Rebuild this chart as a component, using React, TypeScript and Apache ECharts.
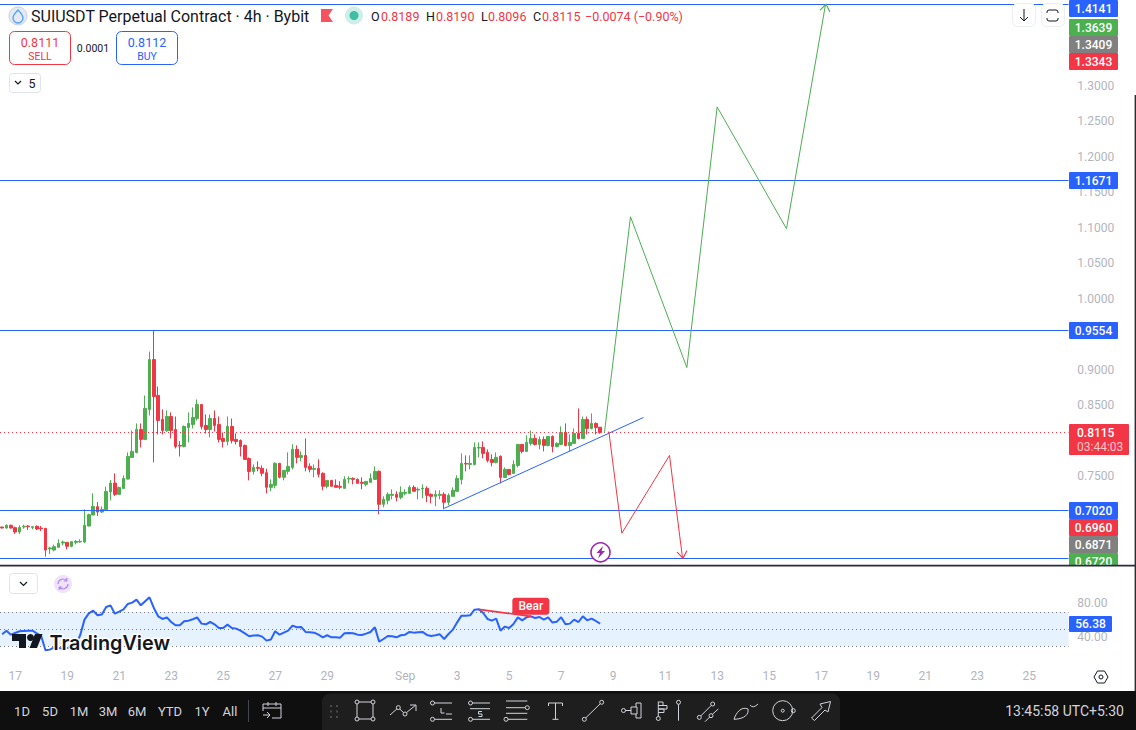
import React, { useEffect, useRef } from "react";
import * as echarts from "echarts";

const FONT = "Roboto, sans-serif";
const UP = "#4caf50";
const DOWN = "#f23645";
const BLUE = "#2962ff";
const GREY_TEXT = "#b2b5be";

// 4h candles as [open, close, low, high]
const candles = [
  [0.6783, 0.6769, 0.6764, 0.6788], [0.6769, 0.6807, 0.676, 0.6821], [0.6807, 0.6769, 0.676, 0.6816], [0.6774, 0.6713, 0.6685, 0.6788],
  [0.6713, 0.6778, 0.6685, 0.6807], [0.6783, 0.6793, 0.676, 0.6816], [0.6797, 0.6788, 0.6741, 0.6807], [0.6778, 0.6788, 0.675, 0.6797],
  [0.6793, 0.6755, 0.6741, 0.6807], [0.6769, 0.676, 0.6727, 0.6797], [0.6764, 0.6459, 0.6366, 0.6764], [0.6474, 0.6488, 0.6403, 0.6506],
  [0.6459, 0.6506, 0.6441, 0.6535], [0.6497, 0.6553, 0.6497, 0.661], [0.6558, 0.6572, 0.6525, 0.6591], [0.6567, 0.6511, 0.6469, 0.6567],
  [0.6511, 0.6577, 0.6497, 0.6581], [0.6567, 0.6581, 0.6539, 0.66], [0.6572, 0.6581, 0.6563, 0.661], [0.6572, 0.6807, 0.6558, 0.7032],
  [0.6797, 0.6957, 0.6793, 0.6971], [0.6952, 0.7074, 0.6952, 0.7257], [0.7069, 0.6994, 0.6938, 0.7135], [0.6994, 0.7032, 0.698, 0.7074],
  [0.7027, 0.7285, 0.7027, 0.7351], [0.7276, 0.7402, 0.7158, 0.7444], [0.7402, 0.7243, 0.7219, 0.7538], [0.7243, 0.7341, 0.7243, 0.7351],
  [0.7327, 0.7468, 0.7327, 0.751], [0.7458, 0.7777, 0.7454, 0.7834], [0.7763, 0.7848, 0.7763, 0.8143], [0.7834, 0.8157, 0.782, 0.8242],
  [0.8157, 0.8017, 0.7904, 0.8242], [0.8017, 0.8453, 0.8007, 0.8636], [0.8439, 0.9142, 0.8354, 0.9255], [0.9142, 0.8622, 0.7693, 0.956],
  [0.8636, 0.8284, 0.8087, 0.8762], [0.8298, 0.8143, 0.8087, 0.8439], [0.8138, 0.834, 0.8124, 0.8425], [0.834, 0.8143, 0.8031, 0.8397],
  [0.8157, 0.7918, 0.789, 0.834], [0.7932, 0.7923, 0.7777, 0.7993], [0.7918, 0.8199, 0.7904, 0.8214], [0.8185, 0.8242, 0.7974, 0.8397],
  [0.8228, 0.8326, 0.8171, 0.8467], [0.8312, 0.8509, 0.8284, 0.8579], [0.8509, 0.8199, 0.8157, 0.8509], [0.8214, 0.8157, 0.8101, 0.8368],
  [0.8157, 0.8312, 0.8045, 0.8368], [0.8312, 0.8214, 0.8129, 0.8425], [0.8228, 0.8017, 0.7974, 0.834], [0.8031, 0.7988, 0.7904, 0.8115],
  [0.7988, 0.8199, 0.7932, 0.834], [0.8199, 0.8002, 0.796, 0.8312], [0.8017, 0.7988, 0.7946, 0.8101], [0.8002, 0.7918, 0.7777, 0.8017],
  [0.7932, 0.7735, 0.7735, 0.7946], [0.7749, 0.7566, 0.744, 0.7763], [0.7566, 0.7623, 0.7524, 0.7665], [0.7623, 0.7609, 0.7566, 0.7707],
  [0.7609, 0.7539, 0.7497, 0.7651], [0.7548, 0.7342, 0.7257, 0.7604], [0.7342, 0.7384, 0.7286, 0.7454], [0.737, 0.768, 0.7328, 0.7694],
  [0.768, 0.7483, 0.7468, 0.768], [0.7483, 0.7581, 0.744, 0.7581], [0.7567, 0.7637, 0.7525, 0.7834], [0.7623, 0.7877, 0.7595, 0.7947],
  [0.7877, 0.7764, 0.768, 0.7933], [0.7764, 0.7792, 0.7708, 0.7848], [0.7792, 0.7623, 0.7567, 0.8031], [0.7637, 0.7595, 0.7553, 0.768],
  [0.7595, 0.7609, 0.7483, 0.7665], [0.7609, 0.7525, 0.7483, 0.7736], [0.7539, 0.7356, 0.73, 0.7553], [0.7356, 0.744, 0.7328, 0.744],
  [0.744, 0.7356, 0.7356, 0.744], [0.737, 0.7342, 0.7342, 0.7454], [0.7356, 0.7342, 0.7314, 0.7426], [0.7328, 0.7454, 0.7328, 0.7497],
  [0.7459, 0.7468, 0.7398, 0.7497], [0.7468, 0.7454, 0.7384, 0.7483], [0.7454, 0.7398, 0.7398, 0.7468], [0.7412, 0.7398, 0.7314, 0.7483],
  [0.7384, 0.7426, 0.7356, 0.7426], [0.7412, 0.7468, 0.7412, 0.7539], [0.7454, 0.7567, 0.7454, 0.7637], [0.7567, 0.7103, 0.6962, 0.7581],
  [0.7103, 0.7173, 0.706, 0.7215], [0.7159, 0.7243, 0.7103, 0.7271], [0.7229, 0.7243, 0.7173, 0.7314], [0.7243, 0.7201, 0.7145, 0.7286],
  [0.7201, 0.7271, 0.7173, 0.7356], [0.7257, 0.7271, 0.7229, 0.7314], [0.7257, 0.7342, 0.7257, 0.737], [0.7342, 0.7286, 0.7286, 0.737],
  [0.7304, 0.7314, 0.7173, 0.7342], [0.7318, 0.7328, 0.7187, 0.7384], [0.7328, 0.7229, 0.7131, 0.7356], [0.7243, 0.7215, 0.7117, 0.7257],
  [0.7215, 0.7243, 0.7075, 0.73], [0.7229, 0.7243, 0.7173, 0.73], [0.7243, 0.7131, 0.7032, 0.7271], [0.7131, 0.7229, 0.7089, 0.7257],
  [0.7215, 0.73, 0.7215, 0.7342], [0.7286, 0.7468, 0.7286, 0.7511], [0.7454, 0.7679, 0.7384, 0.782], [0.7679, 0.767, 0.7567, 0.7792],
  [0.7665, 0.7679, 0.7595, 0.7792], [0.7665, 0.7904, 0.7651, 0.7975], [0.7895, 0.7904, 0.7764, 0.7975], [0.7904, 0.782, 0.775, 0.7989],
  [0.7834, 0.7721, 0.7693, 0.7876], [0.7735, 0.7693, 0.7637, 0.7806], [0.7693, 0.7764, 0.7679, 0.7834], [0.7778, 0.7482, 0.7398, 0.7792],
  [0.7482, 0.7595, 0.7482, 0.7623], [0.7595, 0.7524, 0.751, 0.7595], [0.7538, 0.7665, 0.7538, 0.7721], [0.7651, 0.7947, 0.7623, 0.7947],
  [0.7947, 0.7848, 0.782, 0.7947], [0.7848, 0.7975, 0.7848, 0.8073], [0.7961, 0.8031, 0.7932, 0.8143], [0.8031, 0.7946, 0.7932, 0.8087],
  [0.7946, 0.8017, 0.7876, 0.8059], [0.8017, 0.7932, 0.7848, 0.8059], [0.7932, 0.8059, 0.7918, 0.8059], [0.8059, 0.7918, 0.7834, 0.8073],
  [0.7918, 0.7961, 0.7904, 0.7975], [0.7946, 0.8115, 0.7946, 0.82], [0.8115, 0.7932, 0.7918, 0.8242], [0.7932, 0.7975, 0.7848, 0.8087],
  [0.7961, 0.8101, 0.7961, 0.8172], [0.8101, 0.8031, 0.8017, 0.8453], [0.8031, 0.8298, 0.8031, 0.834], [0.8298, 0.8172, 0.8087, 0.834],
  [0.8172, 0.8242, 0.8158, 0.8383], [0.8242, 0.8186, 0.8087, 0.8256], [0.8189, 0.8115, 0.8096, 0.819],
];

const rsi = [
  43.7, 48.0, 43.3, 45.3, 47.3, 47.7, 48.0, 48.0, 44.9, 41.8, 24.9, 25.7, 28.4, 27.7, 26.9, 27.7, 28.4, 31.6, 42.6, 61.0,
  68.4, 71.6, 66.1, 66.9, 75.9, 77.8, 68.0, 70.4, 73.1, 79.4, 81.0, 84.5, 77.8, 82.5, 87.2, 74.7, 64.9, 61.8, 63.7, 58.2,
  54.3, 54.3, 59.0, 59.8, 61.4, 63.7, 56.3, 55.5, 58.2, 55.5, 51.2, 51.2, 55.1, 51.2, 50.4, 48.0, 44.9, 41.4, 42.2, 42.6,
  41.0, 36.3, 37.5, 47.3, 43.3, 45.7, 48.0, 53.9, 52.0, 52.4, 46.5, 46.1, 45.7, 43.3, 40.2, 42.6, 40.2, 40.2, 39.8, 44.9,
  45.3, 44.9, 43.3, 43.0, 44.5, 46.5, 52.0, 35.1, 38.2, 41.8, 41.4, 40.2, 42.6, 43.3, 46.5, 45.7, 46.1, 46.5, 43.0, 41.8,
  42.6, 43.7, 38.2, 44.1, 49.2, 57.8, 65.7, 65.7, 66.1, 72.7, 73.1, 68.8, 61.8, 59.8, 62.2, 48.0, 52.8, 51.2, 55.9, 63.7,
  60.2, 63.7, 64.9, 62.9, 64.1, 61.0, 63.7, 57.5, 58.6, 63.7, 55.5, 56.3, 61.0, 58.2, 64.9, 60.2, 62.2, 59.4, 56.38,
];

// drawn on the chart, [bar index, price]
const greenPath = [[139, 0.8115], [145, 1.1153], [158, 0.9029], [165, 1.27], [181, 1.0984], [190, 1.4141]];
const redPath = [[140, 0.8129], [143, 0.6695], [154, 0.7792], [157, 0.635]];
const trendLine = [[102, 0.7046], [148, 0.8326]];
const divergence = [[110, 73.1], [122, 64.9]];

const hLevels = [1.4141, 1.1671, 0.9554, 0.702, 0.635];
const lastPrice = 0.8115;
const rsiLevels = [70, 50, 30];

const priceTicks = [1.3, 1.25, 1.2, 1.15, 1.1, 1.05, 1.0, 0.9, 0.85, 0.75];
const rsiTicks = [80, 40];
const dayTickBars = [3, 15, 27, 39, 51, 63, 75, 93, 105, 117, 129, 141, 153, 165, 177, 189, 201, 213, 225, 237];
const dayTickLabels = ["17", "19", "21", "23", "25", "27", "29", "Sep", "3", "5", "7", "9", "11", "13", "15", "17", "19", "21", "23", "25"];
const BAR_COUNT = 247;

const categories: string[] = [];
for (let i = 0; i < BAR_COUNT; i++) {
  const k = dayTickBars.indexOf(i);
  categories.push(k >= 0 ? dayTickLabels[k] : "");
}

const rangeButtons = ["1D", "5D", "1M", "3M", "6M", "YTD", "1Y", "All"];
const rangeButtonX = [22, 50, 79, 108, 137, 170, 202, 230];

const priceTags: [string, number, number, string][] = [
  ["1.4141", 0, 17, BLUE], ["1.3639", 19, 36, UP], ["1.3409", 36, 53, "#808080"], ["1.3343", 53, 70, DOWN],
  ["1.1671", 172, 189, BLUE], ["0.9554", 322, 339, BLUE],
  ["0.7020", 502, 519, BLUE], ["0.6960", 519, 536, DOWN], ["0.6871", 536, 553, "#808080"], ["0.6720", 553, 566, UP],
];

const circle = (x: number, y: number, r: number) =>
  `M${x - r} ${y}a${r} ${r} 0 1 0 ${2 * r} 0a${r} ${r} 0 1 0 ${-2 * r} 0`;

// toolbar and chrome glyphs, absolute page coordinates
const icons: Record<string, string> = {
  rectTool: circle(357, 702, 2) + circle(373, 702, 2) + circle(357, 719, 2) + circle(373, 719, 2) + "M359 702H371M359 719H371M357 704V717M373 704V717",
  pathTool: "M390 715L396.8 709" + circle(398.3, 707.6, 2) + "M399.8 709L403.5 712.6" + circle(405, 714, 2) + "M406.5 712.6L415.5 705.3M410 705H416V711",
  longTool: circle(432.5, 703, 2) + "M434.5 703H452M446 714H452M434.5 719.3H452" + circle(432.5, 719.3, 2) + "M441 708V713H444.5",
  shortTool: circle(470.5, 703, 2) + "M472.5 703H490M470 708.7H490M472.5 719.3H490" + circle(470.5, 719.3, 2) + "M482 711.5H478.5V714H482V716.5H478.5",
  channelTool: "M506 701H527.3M506 707.7H525" + circle(527.3, 707.7, 2) + "M506 713.3H527.3M508 719.3H527.3" + circle(506, 719.3, 2),
  textTool: "M548.5 706V703H562.5V706M555.5 703V719.3M552.5 719.3H558.5",
  lineTool: circle(601.7, 702.3, 2) + circle(584.3, 719.3, 2) + "M600.3 703.7L585.7 717.9",
  fibTool: circle(623.5, 710.5, 2) + "M625.5 710.5H631M631 707H637V714H631ZM636 707V703H641V718H636V714",
  barsTool: "M658.3 701.7V716.5" + circle(658.3, 718.5, 2) + "M658.3 702H663V705.5H658.3M658.3 705.5H667V709H658.3M658.3 709H664V712.5H658.3",
  pinTool: circle(678.5, 702.3, 2) + "M678.5 704.3V720.7",
  linesTool: circle(712.7, 704, 2) + "M711.3 705.4L700.7 716" + circle(699.3, 717.4, 2) + "M718.3 709L712.4 714.3" + circle(711, 715.7, 2) + "M709.6 717.1L705 721.7",
  brushTool: "M734 719.3C736 713 741 706 748 709C749 714 745 719 734 719.3ZM750 705Q753 709 758 704",
  circleTool: circle(782.7, 710.7, 10) + circle(782.7, 710.7, 1.5) + circle(793.3, 710.7, 2),
  arrowTool: "M811.5 718L822 707.5L820 704L830.5 701.5L828 712L825 710L814.5 720.5Z",
  calendar: "M263 711V704H281V718H272M263 708H281M268 702V706M276 702V706M263 715H270M267 712L270 715L267 718",
  toBottom: "M1024 9V21M1020 17L1024 21L1028 17",
  fullScreen: "M1047 13V12Q1047 10 1049 10H1056Q1058 10 1058 12V13M1047 18V19Q1047 21 1049 21H1056Q1058 21 1058 19V18",
  hexGear: "M1094 677L1097.5 671H1104.5L1108 677L1104.5 683H1097.5Z" + circle(1101, 677, 2),
  chevron5: "M15 81L18 84L21 81",
  chevronPane: "M20 582L23.5 585.5L27 582",
  sync: "M58 584A5 5 0 0 1 66.5 580.5M66.8 578V581H63.8M68 584A5 5 0 0 1 59.5 587.5M59.2 590V587H62.2",
  drop: "M18 10C21 13 23 15 23 18A5 5 0 0 1 13 18C13 15 15 13 18 10Z",
};
Object.keys(icons).forEach((k) => {
  echarts.graphic.registerShape(k, echarts.graphic.extendPath(icons[k], {}));
});
const filledShapes: Record<string, string> = {
  flag: "M321 9H333L328.5 15.5L333 22H321Z",
  bolt: "M603 546L596.5 553H600L598 558.5L605 551H601.5Z",
  tvT: "M12 634H26V648H19V641H12Z",
  tvSlash: "M29.5 648L35 634H42.5L37 648Z",
};
Object.keys(filledShapes).forEach((k) => {
  echarts.graphic.registerShape(k, echarts.graphic.extendPath(filledShapes[k], {}));
});

const text = (str: string, x: number, y: number, size: number, fill: string, align = "center", extra = {}) => ({
  type: "text", x, y, z: 60,
  style: { text: str, fontSize: size, fill, fontFamily: FONT, align, verticalAlign: "middle", ...extra },
});
const box = (x: number, y: number, w: number, h: number, fill: string, stroke?: string, r: any = 0, z = 50) => ({
  type: "rect", z, shape: { x, y, width: w, height: h, r },
  style: { fill, stroke: stroke || "none", lineWidth: stroke ? 1 : 0 },
});
const glyph = (name: string, stroke: string, width = 1, z = 60) => ({
  type: name, x: 0, y: 0, z, style: { fill: "none", stroke, lineWidth: width },
});
const solid = (name: string, fill: string, z = 60) => ({ type: name, x: 0, y: 0, z, style: { fill } });

function buildGraphic() {
  const els: any[] = [];
  // strip past the plot's last bar band
  els.push(box(1068.5, 0, 3, 566, "#fff", undefined, 0, 40));
  els.push(box(1068.5, 566, 3, 92, "#fff", undefined, 0, 40));

  // header
  els.push({ type: "circle", z: 60, shape: { cx: 18, cy: 16, r: 9 }, style: { fill: "#e4e9f2", stroke: "#c9d0dc", lineWidth: 1 } });
  els.push(glyph("drop", "#4da2ff", 1.3, 61));
  els.push(text("SUIUSDT Perpetual Contract · 4h · Bybit", 31, 16, 16, "#131722", "left"));
  els.push(solid("flag", "#f7525f"));
  els.push({ type: "circle", z: 60, shape: { cx: 354, cy: 15.5, r: 9 }, style: { fill: "#cfeee8" } });
  els.push({ type: "circle", z: 61, shape: { cx: 354, cy: 15.5, r: 4.5 }, style: { fill: "#3cbfa5" } });
  ([["O", 371, "0.8189", 381], ["H", 426, "0.8190", 436], ["L", 481, "0.8096", 488], ["C", 533, "0.8115", 542]] as [string, number, string, number][]).forEach(([k, kx, v, vx]) => {
    els.push(text(k, kx, 16, 12.5, "#131722", "left"));
    els.push(text(v, vx, 16, 12.5, DOWN, "left"));
  });
  els.push(text("−0.0074 (−0.90%)", 585, 16, 12.5, DOWN, "left"));

  // sell / buy
  els.push(box(9.5, 31.5, 61, 33, "#fff", DOWN, 5));
  els.push(text("0.8111", 40, 42, 12.5, DOWN));
  els.push(text("SELL", 40, 56, 10.5, DOWN));
  els.push(text("0.0001", 93, 48, 10.5, "#131722"));
  els.push(box(116.5, 31.5, 61, 33, "#fff", BLUE, 5));
  els.push(text("0.8112", 147, 42, 12.5, BLUE));
  els.push(text("BUY", 147, 56, 10.5, BLUE));
  els.push(box(9.5, 73.5, 31, 19, "#fff", "#e0e3eb", 3));
  els.push(glyph("chevron5", "#131722", 1.2));
  els.push(text("5", 32, 83.5, 12.5, "#131722"));

  // top right buttons
  els.push(box(1012.5, 3.5, 23, 23, "#fff", "#eceef2", 5));
  els.push(glyph("toBottom", "#131722", 1));
  els.push(box(1041.5, 3.5, 23, 23, "#fff", "#eceef2", 5));
  els.push(glyph("fullScreen", "#131722", 1));

  // bolt marker
  els.push({ type: "circle", z: 60, shape: { cx: 600.5, cy: 552.3, r: 9.5 }, style: { fill: "#fff", stroke: "#9c27b0", lineWidth: 1.6 } });
  els.push(solid("bolt", "#9c27b0", 61));

  // price tags
  priceTags.forEach(([t, y0, y1, c]) => {
    els.push(box(1069, y0, 49, y1 - y0, c, undefined, 1));
    els.push(text(t, 1093.5, y0 + 8.5, 12, "#fff", "center", { fontWeight: 500 }));
  });
  els.push(box(1069, 424, 60, 31, DOWN, undefined, 1));
  els.push(text("0.8115", 1077, 432.5, 12, "#fff", "left", { fontWeight: 500 }));
  els.push(text("03:44:03", 1077, 446.5, 12, "#fbc4ca", "left"));

  // pane separator
  els.push(box(1069, 566, 65, 8, "#fff", undefined, 0, 61));
  els.push(box(0, 564.8, 1135, 1.6, "#2a2e39", undefined, 0, 62));
  els.push(box(1134.6, 95, 1.4, 600, "#2a2e39", undefined, 0, 62));

  // rsi pane
  els.push(box(9.5, 573.5, 28, 20, "#fff", "#e0e3eb", 3));
  els.push(glyph("chevronPane", "#131722", 1.2));
  els.push({ type: "circle", z: 60, shape: { cx: 63, cy: 584, r: 9 }, style: { fill: "#efe3fb" } });
  els.push(glyph("sync", "#b388ee", 1.2, 61));
  els.push(box(1069, 616, 43, 16, BLUE, undefined, 1));
  els.push(text("56.38", 1090.5, 624.3, 12, "#fff", "center", { fontWeight: 500 }));

  // watermark
  els.push(solid("tvT", "#131722", 70));
  els.push({ type: "circle", z: 70, shape: { cx: 30.5, cy: 637.5, r: 3.5 }, style: { fill: "#131722" } });
  els.push(solid("tvSlash", "#131722", 70));
  els.push(text("TradingView", 49.5, 643, 19.8, "#131722", "left", { fontFamily: "Inter, sans-serif", fontWeight: 600, stroke: "#fff", lineWidth: 3 }));
  els[els.length - 1].z = 70;

  els.push(glyph("hexGear", "#131722", 1));

  // bottom bar
  els.push(box(0, 691, 1136, 39, "#0f0f0f", undefined, 0, 80));
  els.push(box(322, 693.5, 518, 36.5, "#1e1e1e", undefined, [8, 8, 0, 0], 81));
  rangeButtons.forEach((t, i) => {
    const el = text(t, rangeButtonX[i], 711, 13, "#d1d4dc");
    el.z = 90;
    els.push(el);
  });
  els.push(box(248, 700, 1, 22, "#434651", undefined, 0, 90));
  const timeEl = text("13:45:58 UTC+5:30", 1124, 711, 14, "#d1d4dc", "right");
  timeEl.z = 90;
  els.push(timeEl);
  els.push(glyph("calendar", "#d1d4dc", 1, 90));
  ["rectTool", "pathTool", "longTool", "shortTool", "channelTool", "textTool", "lineTool", "fibTool", "barsTool", "pinTool", "linesTool", "brushTool", "circleTool", "arrowTool"].forEach((k) => {
    els.push(glyph(k, "#d1d4dc", 1, 90));
  });
  for (let c = 0; c < 2; c++) {
    for (let r = 0; r < 3; r++) {
      els.push(box(330 + c * 6, 705 + r * 5.5, 2, 2, "#4a4a4a", undefined, 0, 90));
    }
  }
  return els;
}

export default function App() {
  const chartRef = useRef<HTMLDivElement>(null);

  useEffect(() => {
    document.body.style.margin = "0";
    if (!chartRef.current) return;
    const chart = echarts.init(chartRef.current, undefined, { renderer: "svg" });
    const emptyAxis = { show: false };

    chart.setOption({
      animation: false,
      backgroundColor: "#fff",
      grid: [
        { left: 0, top: 0, width: 1070.33, height: 565 },
        { left: 0, top: 566, width: 1070.33, height: 90 },
      ],
      xAxis: [
        { type: "category", gridIndex: 0, data: categories, axisLine: emptyAxis, axisTick: emptyAxis, axisLabel: emptyAxis, splitLine: emptyAxis },
        {
          type: "category", gridIndex: 1, data: categories, axisLine: emptyAxis, axisTick: emptyAxis, splitLine: emptyAxis,
          axisLabel: { color: GREY_TEXT, fontSize: 12, fontFamily: FONT, margin: 14, interval: (_: number, v: string) => v !== "" },
        },
      ],
      yAxis: [
        {
          type: "value", gridIndex: 0, position: "right", min: 0.6248, max: 1.4206, axisLine: emptyAxis, axisTick: emptyAxis, splitLine: emptyAxis,
          axisLabel: { color: GREY_TEXT, fontSize: 12, fontFamily: FONT, margin: 7, customValues: priceTicks, formatter: (v: number) => v.toFixed(4) },
        },
        {
          type: "value", gridIndex: 1, position: "right", min: 18.2, max: 124.1, axisLine: emptyAxis, axisTick: emptyAxis, splitLine: emptyAxis,
          axisLabel: { color: GREY_TEXT, fontSize: 12, fontFamily: FONT, margin: 7, customValues: rsiTicks, formatter: (v: number) => v.toFixed(2) },
        },
      ],
      series: [
        {
          type: "candlestick", xAxisIndex: 0, yAxisIndex: 0, data: candles, barWidth: 3, silent: true,
          itemStyle: { color: UP, color0: DOWN, borderColor: UP, borderColor0: DOWN, borderWidth: 1 },
          markLine: {
            silent: true, symbol: ["none", "none"], label: { show: false }, precision: 4,
            lineStyle: { color: BLUE, width: 1, type: "solid" },
            data: hLevels.map((v) => ({ yAxis: v })),
          },
        },
        {
          // last price line
          type: "line", xAxisIndex: 0, yAxisIndex: 0, data: [], symbol: "none", silent: true,
          itemStyle: { color: DOWN },
          markLine: {
            silent: true, symbol: ["none", "none"], label: { show: false }, precision: 4,
            lineStyle: { color: DOWN, width: 1, type: [1, 3], opacity: 1 },
            data: [{ yAxis: lastPrice }],
          },
        },
        {
          type: "line", xAxisIndex: 0, yAxisIndex: 0, data: greenPath, symbol: "none", silent: true, z: 5,
          lineStyle: { color: UP, width: 1 },
          markPoint: {
            silent: true, symbol: "path://M0 7L5 0L10 7", symbolSize: [10, 7], symbolOffset: [0, 3], symbolRotate: -10,
            itemStyle: { color: "none", borderColor: UP, borderWidth: 1 }, label: { show: false },
            data: [{ coord: greenPath[greenPath.length - 1] }],
          },
        },
        {
          type: "line", xAxisIndex: 0, yAxisIndex: 0, data: redPath, symbol: "none", silent: true, z: 5,
          lineStyle: { color: DOWN, width: 1 },
          markPoint: {
            silent: true, symbol: "path://M0 0L5 7L10 0", symbolSize: [10, 7], symbolOffset: [0, -3], symbolRotate: 8,
            itemStyle: { color: "none", borderColor: DOWN, borderWidth: 1 }, label: { show: false },
            data: [{ coord: redPath[redPath.length - 1] }],
          },
        },
        { type: "line", xAxisIndex: 0, yAxisIndex: 0, data: trendLine, symbol: "none", silent: true, z: 5, lineStyle: { color: BLUE, width: 1 } },
        {
          type: "line", xAxisIndex: 1, yAxisIndex: 1, data: rsi, symbol: "none", silent: true, z: 5,
          lineStyle: { color: BLUE, width: 2 },
          markArea: { silent: true, itemStyle: { color: "#e6f2fd" }, data: [[{ yAxis: 70 }, { yAxis: 30 }]] },
          markLine: {
            silent: true, symbol: ["none", "none"], label: { show: false },
            lineStyle: { color: "#787b86", width: 1, type: [1, 3] },
            data: rsiLevels.map((v) => ({ yAxis: v })),
          },
        },
        {
          type: "line", xAxisIndex: 1, yAxisIndex: 1, data: divergence, symbol: "none", silent: true, z: 6,
          lineStyle: { color: DOWN, width: 1.7 },
          markPoint: {
            silent: true, symbol: "path://M3 0H34Q37 0 37 3V14Q37 17 34 17H3Q0 17 0 14V3Q0 0 3 0Z", symbolSize: [37, 17], symbolOffset: [0, -10],
            itemStyle: { color: DOWN },
            label: { show: true, formatter: "Bear", color: "#fff", fontSize: 12, fontFamily: FONT, fontWeight: 500 },
            data: [{ coord: divergence[1] }],
          },
        },
      ],
      graphic: { elements: buildGraphic() },
    });

    return () => { chart.dispose(); };
  }, []);

  return <div ref={chartRef} style={{ position: "fixed", left: 0, top: 0, width: 1136, height: 730 }} />;
}
